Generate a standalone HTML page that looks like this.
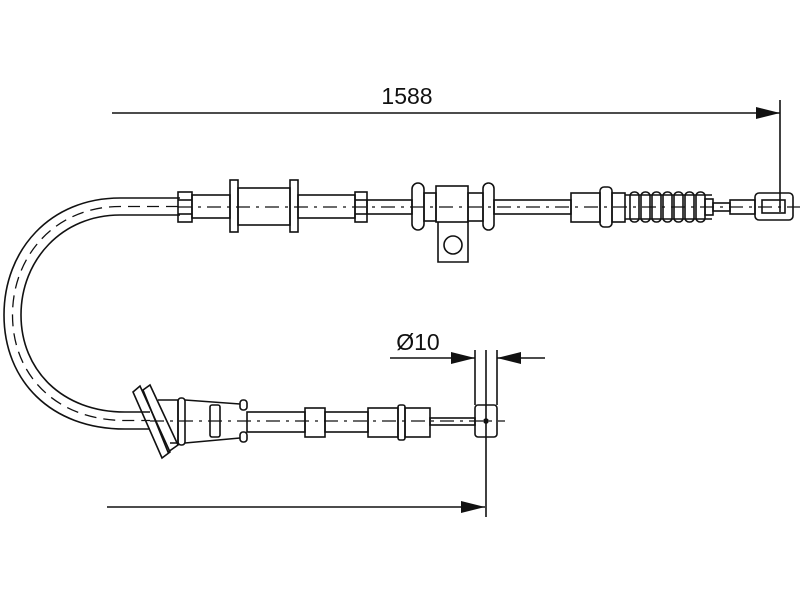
<!DOCTYPE html>
<html><head><style>body{margin:0;background:#fff}svg{display:block}</style></head><body>
<svg width="800" height="600" viewBox="0 0 800 600" xmlns="http://www.w3.org/2000/svg" fill="none" stroke="#111" stroke-width="1.6">
<defs><marker id="a" markerWidth="24" markerHeight="12" refX="24" refY="6" orient="auto" markerUnits="userSpaceOnUse"><path d="M0,0L24,6L0,12z" fill="#111" stroke="none"/></marker></defs>
<!-- dimensions -->
<line x1="112" y1="113" x2="780" y2="113" marker-end="url(#a)"/>
<line x1="780" y1="100" x2="780" y2="212"/>
<text x="407" y="104" font-family="Liberation Sans, sans-serif" font-size="23" fill="#111" stroke="none" text-anchor="middle">1588</text>
<line x1="107" y1="507" x2="485" y2="507" marker-end="url(#a)"/>
<line x1="486" y1="350" x2="486" y2="517"/>
<line x1="475" y1="350" x2="475" y2="405"/><line x1="497" y1="350" x2="497" y2="405"/>
<line x1="390" y1="358" x2="475" y2="358" marker-end="url(#a)"/>
<line x1="545" y1="358" x2="497" y2="358" marker-end="url(#a)"/>
<text x="418" y="350" font-family="Liberation Sans, sans-serif" font-size="23" fill="#111" stroke="none" text-anchor="middle">Ø10</text>
<!-- cable loop -->
<path d="M180,198 L120,198 C50,198 4,250 4,315 C4,380 50,429 125,429 L150,429"/>
<path d="M180,215 L120,215 C62,215 21,260 21,315 C21,370 62,412 125,412 L150,412"/>
<path d="M178,206.5 L120,206.5 C56,206.5 12.5,255 12.5,315 C12.5,375 56,420.5 125,420.5 L150,420.5" stroke-width="1.3" stroke-dasharray="12,7"/>
<!-- top centerline -->
<line x1="178" y1="207" x2="800" y2="207" stroke-width="1.2" stroke-dasharray="14,6,3,6"/>
<!-- top components -->
<rect x="178" y="192" width="14" height="30"/><line x1="178" y1="200" x2="192" y2="200"/><line x1="178" y1="214" x2="192" y2="214"/>
<rect x="192" y="195" width="38" height="23"/>
<rect x="230" y="180" width="8" height="52"/>
<rect x="238" y="188" width="52" height="37"/>
<rect x="290" y="180" width="8" height="52"/>
<rect x="298" y="195" width="57" height="23"/>
<rect x="355" y="192" width="12" height="30"/><line x1="355" y1="200" x2="367" y2="200"/><line x1="355" y1="214" x2="367" y2="214"/>
<rect x="367" y="200" width="45" height="14"/>
<rect x="412" y="183" width="12" height="47" rx="6"/>
<rect x="424" y="193" width="12" height="28"/>
<rect x="436" y="186" width="32" height="36"/>
<path d="M438,222 L438,262 L468,262 L468,222"/>
<circle cx="453" cy="245" r="9"/>
<rect x="468" y="193" width="15" height="28"/>
<rect x="483" y="183" width="11" height="47" rx="5.5"/>
<rect x="494" y="200" width="77" height="14"/>
<rect x="571" y="193" width="29" height="29"/>
<rect x="600" y="187" width="12" height="40" rx="4"/>
<rect x="612" y="193" width="13" height="29"/>
<path d="M625,195 L712,195 M625,219 L712,219"/>
<rect x="630" y="192" width="9" height="30" rx="4"/><rect x="641" y="192" width="9" height="30" rx="4"/><rect x="652" y="192" width="9" height="30" rx="4"/><rect x="663" y="192" width="9" height="30" rx="4"/><rect x="674" y="192" width="9" height="30" rx="4"/><rect x="685" y="192" width="9" height="30" rx="4"/><rect x="696" y="192" width="9" height="30" rx="4"/>
<rect x="705" y="199" width="8" height="16"/>
<rect x="713" y="203" width="17" height="8"/>
<rect x="730" y="200" width="25" height="14"/>
<rect x="755" y="193" width="38" height="27" rx="4"/>
<rect x="762" y="200" width="23" height="13"/>
<!-- bottom -->
<line x1="150" y1="421" x2="505" y2="421" stroke-width="1.2" stroke-dasharray="14,6,3,6"/>
<path d="M133,392 L140,386 L170,452 L162,458 Z"/>
<path d="M143,390 L150,385 L178,445 L168,452 Z"/>
<path d="M158,400 L178,400 L178,443 L170,443"/>
<rect x="178" y="398" width="7" height="47" rx="3"/>
<path d="M185,400 L240,404 M185,443 L240,438"/>
<rect x="210" y="405" width="10" height="32" rx="2"/>
<rect x="240" y="400" width="7" height="10" rx="3"/><rect x="240" y="432" width="7" height="10" rx="3"/>
<rect x="247" y="412" width="58" height="20"/>
<rect x="305" y="408" width="20" height="29"/>
<rect x="325" y="412" width="43" height="20"/>
<rect x="368" y="408" width="30" height="29"/>
<rect x="398" y="405" width="7" height="35" rx="2"/>
<rect x="405" y="408" width="25" height="29"/>
<rect x="430" y="418" width="45" height="7"/>
<rect x="475" y="405" width="22" height="32" rx="3"/>
<circle cx="486" cy="421" r="2" fill="#111"/>
</svg>
</body></html>
